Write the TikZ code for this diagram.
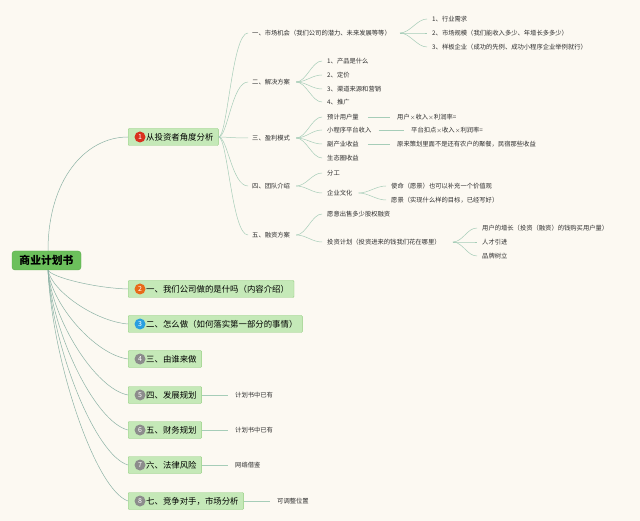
\documentclass[tikz,border=0pt]{standalone}
\usepackage{fontspec}
\setmainfont{Noto Sans CJK SC}
\definecolor{bg}{HTML}{FCF9F2}
\definecolor{rootf}{HTML}{6CC05C}
\definecolor{rootd}{HTML}{5AAA4A}
\definecolor{boxf}{HTML}{C5E9B8}
\definecolor{boxd}{HTML}{93CE80}
\definecolor{linec}{HTML}{A6CDB8}
\definecolor{rootlc}{HTML}{8DB3A6}
\definecolor{txt}{HTML}{2E2E2E}
\definecolor{cred}{HTML}{D9301E}
\definecolor{corange}{HTML}{E86A1A}
\definecolor{cblue}{HTML}{2A9FE0}
\definecolor{cgrey}{HTML}{8C8C8C}
\tikzset{
  lt/.style={anchor=west, inner sep=0pt, font=\fontsize{6.3}{7}\selectfont, text=txt},
  lbox/.style={anchor=west, draw=boxd, fill=boxf, rounded corners=1pt, minimum height=17pt,
    inner xsep=5pt, inner ysep=0pt, font=\fontsize{8.4}{10}\selectfont, text=black},
  numc/.style={circle, fill=#1, inner sep=0pt, minimum size=11pt, text=white, font=\fontsize{7}{8}\selectfont},
  fan/.style={draw=linec, line width=0.5pt},
  rootl/.style={draw=rootlc, line width=0.5pt},
}
\newcommand{\xx}{\ensuremath{\times}}
\begin{document}
\begin{tikzpicture}[x=1pt,y=-1pt]
\fill[bg] (0,0) rectangle (640,521);
\useasboundingbox (0,0) rectangle (640,521);

% root
\node[draw=rootd, fill=rootf, rounded corners=3pt, minimum width=69pt, minimum height=19pt,
  inner sep=0pt, font=\fontsize{10.8}{12}\bfseries\selectfont] (root) at (46.5,260.5) {商业计划书};

% level 1 boxes
\node[lbox] (b1) at (128,137) {\hspace*{13pt}从投资者角度分析};
\node[lbox] (b2) at (128,289) {\hspace*{13pt}一、我们公司做的是什吗（内容介绍）};
\node[lbox] (b3) at (128,324) {\hspace*{13pt}二、怎么做（如何落实第一部分的事情）};
\node[lbox] (b4) at (128,359) {\hspace*{13pt}三、由谁来做};
\node[lbox] (b5) at (128,395) {\hspace*{13pt}四、发展规划};
\node[lbox] (b6) at (128,430) {\hspace*{13pt}五、财务规划};
\node[lbox] (b7) at (128,465) {\hspace*{13pt}六、法律风险};
\node[lbox] (b8) at (128,501) {\hspace*{13pt}七、竞争对手，市场分析};
\node[numc=cred] (c1) at ([xshift=12pt]b1.west) {1};
\node[numc=corange] (c2) at ([xshift=12pt]b2.west) {2};
\node[numc=cblue] (c3) at ([xshift=12pt]b3.west) {3};
\node[numc=cgrey] (c4) at ([xshift=12pt]b4.west) {4};
\node[numc=cgrey] (c5) at ([xshift=12pt]b5.west) {5};
\node[numc=cgrey] (c6) at ([xshift=12pt]b6.west) {6};
\node[numc=cgrey] (c7) at ([xshift=12pt]b7.west) {7};
\node[numc=cgrey] (c8) at ([xshift=12pt]b8.west) {8};

% root connectors
\coordinate (rs) at ([xshift=1.5pt]root.south);
\draw[rootl] ([xshift=1.5pt]root.north) .. controls (48,180) and (85,137) .. (b1.west);
\foreach \b/\y in {b2/289,b3/324,b4/359,b5/395,b6/430,b7/465,b8/501}
  \draw[rootl] (rs) .. controls (52,{270+0.39*(\y-270)}) and (95,{\y-0.05*(\y-270)}) .. (\b.west);

% notes of boxes 5-8
\node[lt] (n5) at (235,395) {计划书中已有};
\node[lt] (n6) at (235,430) {计划书中已有};
\node[lt] (n7) at (235,465) {网络借鉴};
\node[lt] (n8) at (277,501) {可调整位置};
\foreach \b/\n in {b5/n5,b6/n6,b7/n7,b8/n8}
  \draw[fan] (\b.east) -- ([xshift=-7pt]\n.west);

% level 2
\node[lt] (m1) at (252,33) {一、市场机会（我们公司的潜力、未来发展等等）};
\node[lt] (m2) at (252,82) {二、解决方案};
\node[lt] (m3) at (252,138) {三、盈利模式};
\node[lt] (m4) at (252,186) {四、团队介绍};
\node[lt] (m5) at (252,235) {五、融资方案};
\foreach \m in {m1,m2,m3,m4,m5}
  \draw[fan] (b1.east) .. controls +(9,0) and +(-16,0) .. ([xshift=-4pt]\m.west);

% level 3 under m1
\node[lt] (a1) at (432,19) {1、行业需求};
\node[lt] (a2) at (432,33) {2、市场规模（我们能收入多少、年增长多多少）};
\node[lt] (a3) at (432,47) {3、样板企业（成功的先例、成功小程序企业举例就行）};
\foreach \c in {a1,a2,a3}
  \draw[fan] ([xshift=9pt]m1.east) .. controls +(10,0) and +(-10,0) .. ([xshift=-5pt]\c.west);

% level 3 under m2
\node[lt] (s1) at (327,61) {1、产品是什么};
\node[lt] (s2) at (327,75) {2、定价};
\node[lt] (s3) at (327,89) {3、渠道来源和营销};
\node[lt] (s4) at (327,102) {4、推广};
\foreach \c in {s1,s2,s3,s4}
  \draw[fan] ([xshift=6pt]m2.east) .. controls +(10,0) and +(-10,0) .. ([xshift=-5pt]\c.west);

% level 3 under m3
\node[lt] (p1) at (327,117) {预计用户量};
\node[lt] (p2) at (327,130) {小程序平台收入};
\node[lt] (p3) at (327,144) {副产业收益};
\node[lt] (p4) at (327,158) {生态圈收益};
\foreach \c in {p1,p2,p3,p4}
  \draw[fan] ([xshift=6pt]m3.east) .. controls +(10,0) and +(-10,0) .. ([xshift=-5pt]\c.west);
\node[lt] (q1) at (397,117) {用户\xx 收入\xx 利润率=};
\node[lt] (q2) at (411,130) {平台扣点\xx 收入\xx 利润率=};
\node[lt] (q3) at (397,144) {原来策划里面不是还有农户的聚餐，民宿那些收益};
\draw[fan] ([xshift=9pt]p1.east) -- ([xshift=-7pt]q1.west);
\draw[fan] ([xshift=7pt]p2.east) -- ([xshift=-7pt]q2.west);
\draw[fan] ([xshift=9pt]p3.east) -- ([xshift=-7pt]q3.west);

% level 3 under m4
\node[lt] (t1) at (327,173) {分工};
\node[lt] (t2) at (327,193) {企业文化};
\foreach \c in {t1,t2}
  \draw[fan] ([xshift=6pt]m4.east) .. controls +(10,0) and +(-10,0) .. ([xshift=-5pt]\c.west);
\node[lt] (u1) at (391,186) {使命（愿景）也可以补充一个价值观};
\node[lt] (u2) at (391,200) {愿景（实现什么样的目标，已经写好）};
\foreach \c in {u1,u2}
  \draw[fan] ([xshift=6pt]t2.east) .. controls +(10,0) and +(-10,0) .. ([xshift=-5pt]\c.west);

% level 3 under m5
\node[lt] (f1) at (327,214) {愿意出售多少股权融资};
\node[lt] (f2) at (327,242) {投资计划（投资进来的钱我们花在哪里）};
\foreach \c in {f1,f2}
  \draw[fan] ([xshift=6pt]m5.east) .. controls +(10,0) and +(-10,0) .. ([xshift=-5pt]\c.west);
\node[lt] (g1) at (482,228) {用户的增长（投资（融资）的钱购买用户量）};
\node[lt] (g2) at (482,242) {人才引进};
\node[lt] (g3) at (482,256) {品牌树立};
\foreach \c in {g1,g2,g3}
  \draw[fan] ([xshift=12pt]f2.east) .. controls +(10,0) and +(-10,0) .. ([xshift=-5pt]\c.west);
\end{tikzpicture}
\end{document}
